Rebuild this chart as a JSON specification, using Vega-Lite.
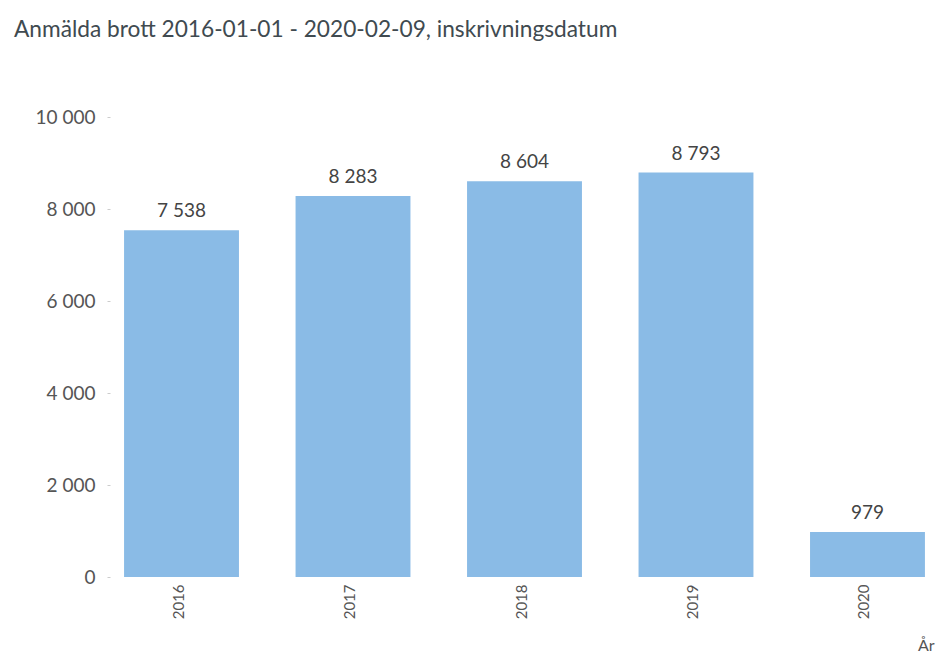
{"$schema":"https://vega.github.io/schema/vega-lite/v6.json","width":829,"height":460,"autosize":"none","padding":{"left":110,"top":117,"right":6,"bottom":82},"background":"white","title":{"text":"Anmälda brott 2016-01-01 - 2020-02-09, inskrivningsdatum","anchor":"start","frame":"group","dx":-96,"dy":0,"offset":66,"font":"Lato","fontSize":22.7,"fontWeight":"normal","color":"#404a50"},"data":{"values":[{"year":"2016","count":7538,"label":"7 538"},{"year":"2017","count":8283,"label":"8 283"},{"year":"2018","count":8604,"label":"8 604"},{"year":"2019","count":8793,"label":"8 793"},{"year":"2020","count":979,"label":"979"}]},"encoding":{"x":{"field":"year","type":"nominal","scale":{"paddingInner":0.33,"paddingOuter":0.082},"axis":{"title":"År","titleFont":"Lato","titleFontWeight":"normal","titleFontSize":16,"titleColor":"#555555","titleAnchor":"end","titleX":824,"titleY":60,"labelAngle":-90,"labelFont":"Lato","labelFontSize":15,"labelColor":"#555555","labelPadding":7,"labelOffset":-3,"domain":false,"ticks":false}},"y":{"field":"count","type":"quantitative","scale":{"domain":[0,10000]},"axis":{"title":null,"values":[0,2000,4000,6000,8000,10000],"labelExpr":"replace(format(datum.value,','),',',' ')","labelFont":"Lato","labelFontSize":19,"labelColor":"#555555","labelPadding":12,"domain":false,"grid":false,"tickSize":3,"tickColor":"#cccccc"}}},"layer":[{"mark":{"type":"bar","color":"#8abbe6"}},{"mark":{"type":"text","dy":-19,"font":"Lato","fontSize":19,"color":"#444444"},"encoding":{"text":{"field":"label","type":"nominal"}}}],"config":{"view":{"stroke":null}}}
